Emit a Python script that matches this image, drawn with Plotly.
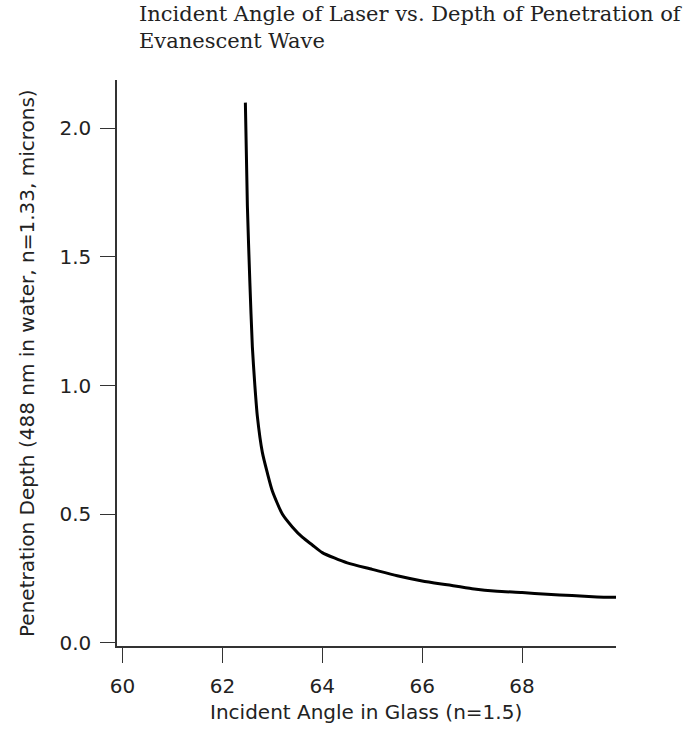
import plotly.graph_objects as go

angle_deg = [62.46, 62.50, 62.55, 62.60, 62.65, 62.70, 62.80, 62.90, 63.00, 63.20, 63.40,
             63.60, 63.80, 64.00, 64.50, 65.00, 65.50, 66.00, 66.50, 67.00, 67.50,
             68.00, 68.50, 69.00, 69.50, 69.93]
depth_um = [2.10, 1.70, 1.40, 1.15, 1.00, 0.88, 0.74, 0.66, 0.59, 0.50, 0.45,
            0.41, 0.38, 0.35, 0.31, 0.285, 0.26, 0.24, 0.225, 0.21, 0.20,
            0.195, 0.188, 0.183, 0.178, 0.176]

x_ticks = [60, 62, 64, 66, 68]
y_ticks = [0.0, 0.5, 1.0, 1.5, 2.0]
y_tick_text = ["0.0", "0.5", "1.0", "1.5", "2.0"]

title_text = "Incident Angle of Laser vs. Depth of Penetration of<br>Evanescent Wave"
x_title = "Incident Angle in Glass (n=1.5)"
y_title = "Penetration Depth (488 nm in water, n=1.33, microns)"

W, H = 697, 733
ML, MR, MT, MB = 117, 81, 80, 87
PW, PH = W - ML - MR, H - MT - MB


def px_x(px):
    return (px - ML) / PW


def px_y(py):
    return (H - MB - py) / PH


fig = go.Figure()
fig.add_trace(go.Scatter(x=angle_deg, y=depth_um, mode="lines",
                         line=dict(color="black", width=3, shape="spline", smoothing=0.6),
                         showlegend=False, hoverinfo="skip"))

tick_font = dict(family="DejaVu Sans", size=20, color="#222")
title_font = dict(family="DejaVu Sans", size=20, color="#222")
fig.update_layout(
    width=W, height=H,
    margin=dict(l=ML, r=MR, t=MT, b=MB),
    paper_bgcolor="white", plot_bgcolor="white",
    xaxis=dict(range=[59.89, 69.88], tickvals=x_ticks, ticks="outside", ticklen=15,
               tickcolor="#333", showline=True, linecolor="#333", linewidth=1.5,
               showgrid=False, zeroline=False, tickfont=tick_font, automargin=False,
               ticklabelstandoff=6),
    yaxis=dict(range=[-0.013, 2.188], tickvals=y_ticks, ticktext=y_tick_text,
               ticks="outside", ticklen=15, tickcolor="#333", showline=True,
               linecolor="#333", linewidth=1.5, showgrid=False, zeroline=False,
               tickfont=tick_font, automargin=False, ticklabelstandoff=5),
)
fig.add_annotation(text=x_title, xref="paper", yref="paper", x=px_x(366), y=px_y(712),
                   xanchor="center", yanchor="middle", showarrow=False, font=title_font)
fig.add_annotation(text=y_title, xref="paper", yref="paper", x=px_x(27), y=px_y(363),
                   xanchor="center", yanchor="middle", textangle=-90, showarrow=False,
                   font=title_font)
fig.add_annotation(text=title_text, xref="paper", yref="paper", x=px_x(137), y=px_y(0),
                   xanchor="left", yanchor="top", align="left", showarrow=False,
                   font=dict(family="DejaVu Serif", size=21, color="#222"))
fig.write_html("out.html", config={"displayModeBar": False},
               post_script="document.body.style.margin='0px';")
